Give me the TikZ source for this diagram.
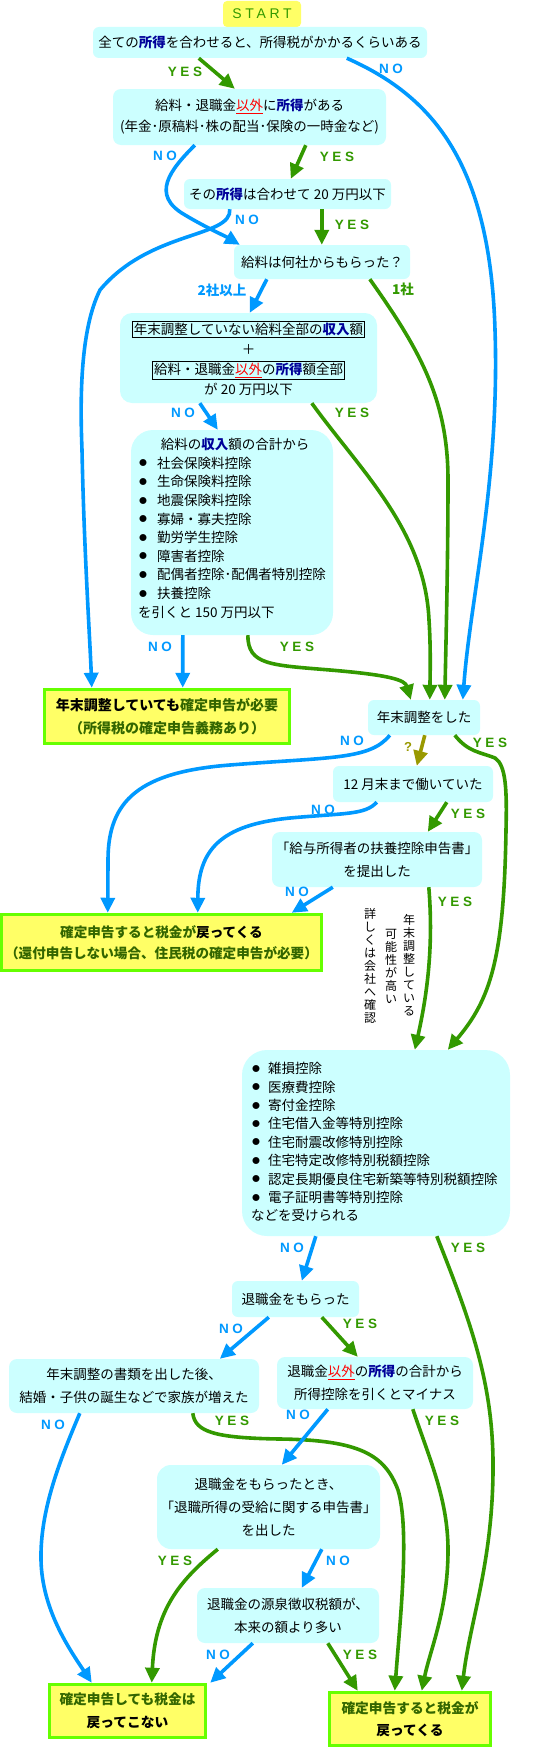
\documentclass[tikz,border=0pt]{standalone}
\usepackage{fontspec}
\usepackage{graphicx}
\setmainfont{Noto Sans CJK JP}
\newfontfamily\lblf[LetterSpace=26]{Liberation Sans}
\usetikzlibrary{arrows.meta}
\definecolor{cbox}{HTML}{CCFFFF}
\definecolor{cyel}{HTML}{FFFF66}
\definecolor{cyelb}{HTML}{66FF00}
\definecolor{cgrn}{HTML}{339900}
\definecolor{cblu}{HTML}{0099FF}
\definecolor{colv}{HTML}{999900}
\definecolor{cnavy}{HTML}{000099}
\definecolor{cdg}{HTML}{336600}
\setlength{\fboxsep}{1.3pt}
\setlength{\fboxrule}{0.9pt}
\newcommand\hlx[1]{{\bfseries\color{cnavy}#1}}
\newcommand\igx[1]{\textcolor{red}{\underline{#1}}}
\newcommand\gtx[1]{\textcolor{cdg}{#1}}
\newcommand\blt[1]{\makebox[#1][l]{\hspace{0.5pt}\raisebox{0.3pt}{\scalebox{1.25}{$\bullet$}}}}
\newcommand\fsm{\fontsize{13.5}{23}\selectfont}
\newcommand\fsy{\fontsize{14}{23}\selectfont\bfseries}
\begin{document}
\begin{tikzpicture}[x=1pt,y=-1pt,
  box/.style={fill=cbox, rounded corners=6pt, inner sep=0pt, align=center, font=\fsm},
  ybox/.style={fill=cyel, draw=cyelb, line width=3.5pt, inner sep=0pt, align=center, font=\fsy},
  yl/.style={text=cgrn, inner sep=0pt, font=\lblf\bfseries\fontsize{13.5}{13.5}\selectfont},
  nl/.style={text=cblu, inner sep=0pt, font=\lblf\bfseries\fontsize{13.5}{13.5}\selectfont},
  jl/.style={inner sep=0pt, font=\bfseries\fontsize{13.5}{13.5}\selectfont},
  yarr/.style={draw=cgrn, line width=3.6pt, -{Triangle[length=15pt,width=14pt]}},
  narr/.style={draw=cblu, line width=3.6pt, -{Triangle[length=15pt,width=14pt]}},
  oarr/.style={draw=colv, line width=3.6pt, -{Triangle[length=15pt,width=14pt]}},
  vt/.style={align=center, inner sep=0pt, font=\fontsize{12}{13}\selectfont}]
\fill[white] (0,0) rectangle (536,1753);
\useasboundingbox (0,0) rectangle (536,1753);

% ---------- boxes ----------
\node[fill=cyel, rounded corners=4pt, minimum width=78pt, minimum height=26pt, inner sep=0pt,
      text=cgrn, font=\lblf\fontsize{14}{14}\selectfont] (start) at (262,14) {START};
\node[box, minimum width=334pt, minimum height=31pt] (b1) at (260,42.5)
  {全ての\hlx{所得}を合わせると、所得税がかかるくらいある};
\node[box, rounded corners=8pt, minimum width=273pt, minimum height=56pt,
      font=\fontsize{13.5}{21}\selectfont] (b2) at (249.5,117)
  {給料・退職金\igx{以外}に\hlx{所得}がある\\(年金･原稿料･株の配当･保険の一時金など)};
\node[box, minimum width=207pt, minimum height=30pt] (b3) at (287.5,194)
  {その\hlx{所得}は合わせて 20 万円以下};
\node[box, minimum width=176pt, minimum height=34pt] (b4) at (322,262)
  {給料は何社からもらった？};
\node[box, rounded corners=12pt, minimum width=257pt, minimum height=90pt,
      font=\fontsize{13.5}{20}\selectfont] (b5) at (248.5,358)
  {\fbox{年末調整していない給料全部の\hlx{収入}額}\\＋\\\fbox{給料・退職金\igx{以外}の\hlx{所得}額全部}\\が 20 万円以下};
\node[box, rounded corners=22pt, minimum width=202pt, minimum height=205pt] (b6) at (232,532.5) {};
\node[anchor=north west, inner sep=0pt] (b6t) at (138,438) {\begin{minipage}{194pt}\fontsize{13.5}{18.6}\selectfont
\centerline{給料の\hlx{収入}額の合計から}
\blt{19pt}社会保険料控除\par
\blt{19pt}生命保険料控除\par
\blt{19pt}地震保険料控除\par
\blt{19pt}寡婦・寡夫控除\par
\blt{19pt}勤労学生控除\par
\blt{19pt}障害者控除\par
\blt{19pt}配偶者控除･配偶者特別控除\par
\blt{19pt}扶養控除\par
を引くと 150 万円以下
\end{minipage}};
\node[ybox, minimum width=245pt, minimum height=54pt] (yA) at (167,716.5)
  {年末調整していても\gtx{確定申告が必要}\\\gtx{（所得税の確定申告義務あり）}};
\node[box, minimum width=112pt, minimum height=35pt] (b7) at (424,717.5) {年末調整をした};
\node[box, minimum width=160pt, minimum height=36pt] (b8) at (413,784) {12 月末まで働いていた};
\node[box, rounded corners=8pt, minimum width=210pt, minimum height=55pt] (b9) at (377,859.5)
  {｢給与所得者の扶養控除申告書｣\\を提出した};
\node[ybox, minimum width=320pt, minimum height=56pt, font=\fontsize{13.6}{21}\selectfont\bfseries] (yB) at (161.5,942.5)
  {\gtx{確定申告すると税金が}戻ってくる\\\gtx{（還付申告しない場合、住民税の確定申告が必要）}};
\node[vt] (v1) at (409,965) {年\\末\\調\\整\\し\\て\\い\\る};
\node[vt] (v2) at (391,966) {可\\能\\性\\が\\高\\い};
\node[vt] (v3) at (370,966) {詳\\し\\く\\は\\会\\社\\へ\\確\\認};
\node[box, rounded corners=25pt, minimum width=268pt, minimum height=186pt] (b10) at (376,1143) {};
\node[anchor=north west, inner sep=0pt] (b10t) at (251,1062) {\begin{minipage}{255pt}\fontsize{13.5}{18.4}\selectfont
\blt{17pt}雑損控除\par
\blt{17pt}医療費控除\par
\blt{17pt}寄付金控除\par
\blt{17pt}住宅借入金等特別控除\par
\blt{17pt}住宅耐震改修特別控除\par
\blt{17pt}住宅特定改修特別税額控除\par
\blt{17pt}認定長期優良住宅新築等特別税額控除\par
\blt{17pt}電子証明書等特別控除\par
などを受けられる
\end{minipage}};
\node[box, minimum width=127pt, minimum height=36pt] (b11) at (295.5,1299) {退職金をもらった};
\node[box, rounded corners=8pt, minimum width=250pt, minimum height=54pt] (b12) at (134,1386)
  {年末調整の書類を出した後、\\結婚・子供の誕生などで家族が増えた};
\node[box, rounded corners=8pt, minimum width=196pt, minimum height=52pt] (b13) at (375,1383)
  {退職金\igx{以外}の\hlx{所得}の合計から\\所得控除を引くとマイナス};
\node[box, rounded corners=14pt, minimum width=223pt, minimum height=84pt] (b14) at (268.5,1507)
  {退職金をもらったとき、\\｢退職所得の受給に関する申告書｣\\を出した};
\node[box, rounded corners=8pt, minimum width=182pt, minimum height=55pt] (b15) at (288,1615.5)
  {退職金の源泉徴収税額が、\\本来の額より多い};
\node[ybox, minimum width=156pt, minimum height=53pt, font=\fontsize{13.7}{23}\selectfont\bfseries] (yC) at (127.5,1711)
  {\gtx{確定申告しても税金は}\\戻ってこない};
\node[ybox, minimum width=161pt, minimum height=53pt, font=\fontsize{13.7}{22}\selectfont\bfseries] (yD) at (410,1719)
  {\gtx{確定申告すると税金が}\\戻ってくる};

% ---------- connectors ----------
\draw[yarr] ([xshift=106pt]b1.south west) -- ([xshift=122pt]b2.north west);
\draw[narr] ([xshift=254pt]b1.south west) .. controls (430,95) and (490,160) .. (495,330)
  .. controls (500,480) and (470,600) .. ([xshift=95pt]b7.north west);
\draw[narr] ([xshift=82pt]b2.south west) .. controls (170,170) and (150,195) .. (185,215)
  .. controls (205,227) and (225,236) .. ([xshift=6pt]b4.north west);
\draw[yarr] ([xshift=193pt]b2.south west) -- ([xshift=107pt]b3.north west);
\draw[narr] ([xshift=46pt]b3.south west) .. controls (232,238) and (150,230) .. (100,290)
  .. controls (80,330) and (80,400) .. (82,450)
  .. controls (84,550) and (90,640) .. ([xshift=49pt]yA.north west);
\draw[yarr] ([xshift=138pt]b3.south west) -- ([xshift=88pt]b4.north west);
\draw[narr] ([xshift=33pt]b4.south west) -- ([xshift=130pt]b5.north west);
\draw[yarr] ([xshift=136pt]b4.south west) .. controls (420,350) and (448,400) .. (448,480)
  .. controls (448,560) and (446,640) .. ([xshift=77pt]b7.north west);
\draw[narr] ([xshift=80pt]b5.south west) -- ([xshift=87pt]b6.north west);
\draw[yarr] ([xshift=192pt]b5.south west) .. controls (360,470) and (425,530) .. (429,620)
  .. controls (431,650) and (430,680) .. ([xshift=62pt]b7.north west);
\draw[narr] ([xshift=52pt]b6.south west) -- ([xshift=140pt]yA.north west);
\draw[yarr] ([xshift=117pt]b6.south west) .. controls (248,665) and (270,665) .. (330,670)
  .. controls (390,675) and (405,680) .. ([xshift=43pt]b7.north west);
\draw[narr] ([xshift=22pt]b7.south west) .. controls (370,760) and (330,757) .. (230,765)
  .. controls (140,772) and (108,800) .. (108,860) -- ([xshift=108pt]yB.north west);
\draw[oarr] ([xshift=57pt]b7.south west) -- ([xshift=84pt]b8.north west);
\draw[yarr] ([xshift=87pt]b7.south west) .. controls (468,752) and (480,752) .. (495,758)
  .. controls (506,765) and (507,790) .. (506,830)
  .. controls (504,960) and (490,1000) .. ([xshift=206pt]b10.north west);
\draw[narr] ([xshift=44pt]b8.south west) .. controls (365,815) and (345,813) .. (290,818)
  .. controls (220,825) and (198,850) .. ([xshift=198pt]yB.north west);
\draw[yarr] ([xshift=114pt]b8.south west) -- ([xshift=156pt]b9.north west);
\draw[narr] ([xshift=61pt]b9.south west) -- ([xshift=292pt]yB.north west);
\draw[yarr] ([xshift=157pt]b9.south west) .. controls (434,950) and (426,1000) .. ([xshift=173pt]b10.north west);
\draw[narr] ([xshift=74pt]b10.south west) -- ([xshift=70pt]b11.north west);
\draw[yarr] ([xshift=195pt]b10.south west) .. controls (470,1320) and (492,1380) .. (493,1460)
  .. controls (494,1560) and (470,1620) .. ([xshift=134pt]yD.north west);
\draw[narr] ([xshift=37pt]b11.south west) -- ([xshift=211pt]b12.north west);
\draw[yarr] ([xshift=90pt]b11.south west) -- ([xshift=81pt]b13.north west);
\draw[narr] ([xshift=71pt]b12.south west) .. controls (60,1460) and (40,1510) .. (41,1560)
  .. controls (42,1610) and (70,1650) .. ([xshift=44pt]yC.north west);
\draw[yarr] ([xshift=184pt]b12.south west) .. controls (195,1432) and (215,1438) .. (280,1439)
  .. controls (360,1440) and (385,1455) .. (398,1490)
  .. controls (410,1530) and (400,1620) .. ([xshift=67pt]yD.north west);
\draw[narr] ([xshift=51pt]b13.south west) -- ([xshift=125pt]b14.north west);
\draw[yarr] ([xshift=136pt]b13.south west) .. controls (430,1460) and (448,1500) .. (448,1550)
  .. controls (448,1610) and (430,1650) .. ([xshift=94pt]yD.north west);
\draw[yarr] ([xshift=61pt]b14.south west) .. controls (180,1580) and (155,1610) .. ([xshift=104pt]yC.north west);
\draw[narr] ([xshift=165pt]b14.south west) -- ([xshift=105pt]b15.north west);
\draw[narr] ([xshift=56pt]b15.south west) -- ([xshift=3pt]yC.north east);
\draw[yarr] ([xshift=131pt]b15.south west) -- ([xshift=30pt]yD.north west);

% ---------- labels ----------
\node[yl] (l1) at (185,72) {YES};
\node[nl] (l2) at (391,69) {NO};
\node[nl] (l3) at (165,156) {NO};
\node[yl] (l4) at (337,157) {YES};
\node[nl] (l5) at (247,220) {NO};
\node[yl] (l6) at (352,225) {YES};
\node[jl, text=cblu] (l7) at (222,290) {2社以上};
\node[jl, text=cgrn] (l8) at (403,289) {1社};
\node[nl] (l9) at (183,413) {NO};
\node[yl] (l10) at (352,413) {YES};
\node[nl] (l11) at (160,647) {NO};
\node[yl] (l12) at (297,647) {YES};
\node[nl] (l13) at (352,741) {NO};
\node[jl, text=colv, font=\lblf\bfseries\fontsize{13}{13}\selectfont] (l14) at (408,747) {?};
\node[yl] (l15) at (490,743) {YES};
\node[nl] (l16) at (323,810) {NO};
\node[yl] (l17) at (468,814) {YES};
\node[nl] (l18) at (297,892) {NO};
\node[yl] (l19) at (455,902) {YES};
\node[nl] (l20) at (292,1248) {NO};
\node[yl] (l21) at (468,1248) {YES};
\node[nl] (l22) at (231,1329) {NO};
\node[yl] (l23) at (360,1324) {YES};
\node[nl] (l24) at (53,1425) {NO};
\node[yl] (l25) at (232,1421) {YES};
\node[nl] (l26) at (298,1415) {NO};
\node[yl] (l27) at (442,1421) {YES};
\node[yl] (l28) at (175,1561) {YES};
\node[nl] (l29) at (338,1561) {NO};
\node[nl] (l30) at (218,1655) {NO};
\node[yl] (l31) at (360,1655) {YES};
\end{tikzpicture}
\end{document}
